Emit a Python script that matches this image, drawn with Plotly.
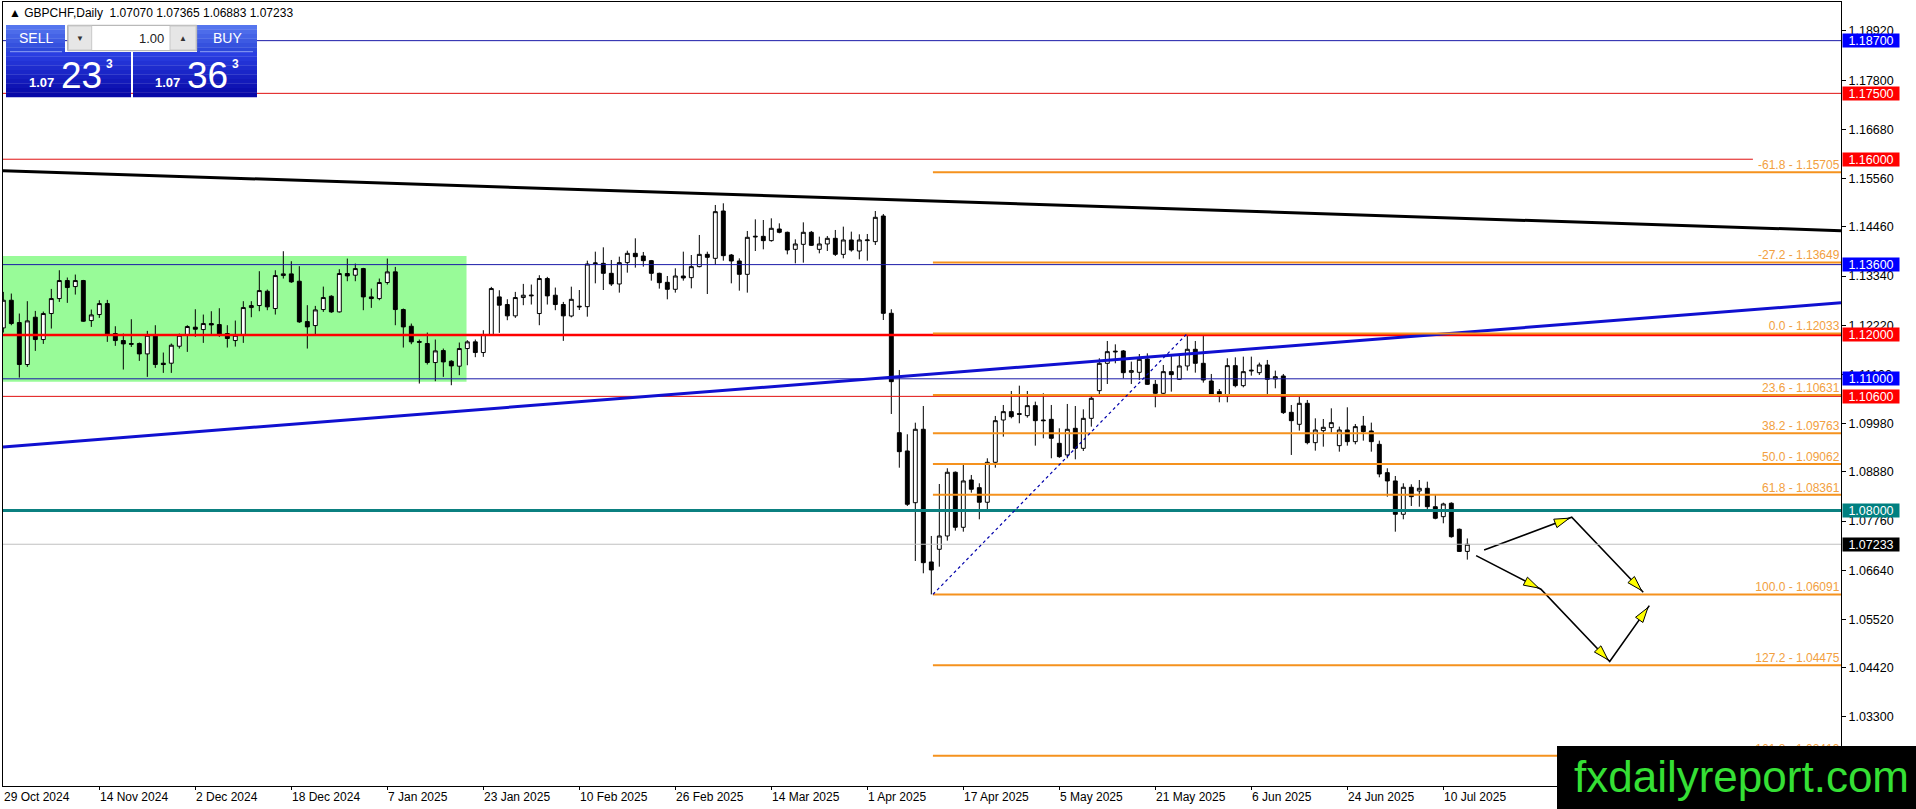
import numpy as np
import pandas as pd
import plotly.graph_objects as go

# ---- data: GBPCHF daily bars (weekdays, no Dec 25 / Jan 1 bars)
days = pd.bdate_range("2024-10-29", "2025-07-15")
dates = [d.strftime("%Y-%m-%d") for d in days if d.strftime("%m-%d") not in ("12-25", "01-01")]

opens = [1.12159, 1.12789, 1.12281, 1.11325, 1.12402, 1.11894, 1.12486, 1.12827, 1.13237, 1.13100,
         1.13237, 1.12326, 1.12463, 1.12713, 1.12030, 1.11871, 1.11803, 1.11803, 1.11567, 1.12008,
         1.11355, 1.11355, 1.11742, 1.11992, 1.12175, 1.12121, 1.12258, 1.12235, 1.12030, 1.11871,
         1.11992, 1.12622, 1.12668, 1.12994, 1.12600, 1.13351, 1.13389, 1.13222, 1.12303, 1.12212,
         1.12577, 1.12880, 1.12524, 1.13397, 1.13359, 1.13510, 1.12865, 1.12827, 1.13192, 1.13435,
         1.12577, 1.12197, 1.11848, 1.11803, 1.11370, 1.11643, 1.11400, 1.11287, 1.11689, 1.11841,
         1.11598, 1.11992, 1.12865, 1.12691, 1.12433, 1.12850, 1.12888, 1.12486, 1.13283, 1.12903,
         1.12691, 1.12430, 1.12635, 1.12643, 1.13622, 1.13629, 1.13402, 1.13159, 1.13645, 1.13857,
         1.13797, 1.13690, 1.13402, 1.13197, 1.13038, 1.13341, 1.13303, 1.13554, 1.13834, 1.13743,
         1.14821, 1.13819, 1.13683, 1.13379, 1.14229, 1.14244, 1.14146, 1.14411, 1.14336, 1.13948,
         1.14062, 1.14336, 1.13948, 1.14070, 1.14199, 1.13834, 1.14161, 1.13910, 1.14146, 1.14123,
         1.14707, 1.12492, 1.09773, 1.09357, 1.08179, 1.09851, 1.06829, 1.07118, 1.07421, 1.08872,
         1.07619, 1.08696, 1.08521, 1.08189, 1.09099, 1.10062, 1.10252, 1.10207, 1.10161, 1.10389,
         1.10062, 1.10077, 1.09531, 1.09266, 1.09873, 1.09417, 1.10100, 1.10730, 1.11353, 1.11611,
         1.11634, 1.11148, 1.11148, 1.11451, 1.10874, 1.10670, 1.11163, 1.10989, 1.11292, 1.11672,
         1.11353, 1.10950, 1.10708, 1.10609, 1.11300, 1.10844, 1.11178, 1.11140, 1.11315, 1.10996,
         1.11064, 1.10237, 1.09964, 1.10442, 1.09546, 1.09820, 1.09888, 1.09478, 1.09835, 1.09569,
         1.09926, 1.09812, 1.09508, 1.08863, 1.08674, 1.07915, 1.08530, 1.08446, 1.08507, 1.08088,
         1.07861, 1.08166, 1.07574, 1.07070]
highs = [1.12979, 1.12941, 1.12486, 1.12767, 1.12546, 1.12531, 1.13047, 1.13472, 1.13306, 1.13374,
         1.13252, 1.12577, 1.12789, 1.12797, 1.12197, 1.12030, 1.12357, 1.11826, 1.12091, 1.12220,
         1.11598, 1.11803, 1.12030, 1.12220, 1.12584, 1.12463, 1.12539, 1.12607, 1.12220, 1.12326,
         1.12767, 1.12767, 1.13450, 1.13032, 1.13472, 1.13905, 1.13677, 1.13564, 1.12676, 1.12660,
         1.13100, 1.12903, 1.13495, 1.13738, 1.13624, 1.13526, 1.13055, 1.13283, 1.13738, 1.13548,
         1.12600, 1.12258, 1.11894, 1.12053, 1.11894, 1.11689, 1.11423, 1.11826, 1.11879, 1.11894,
         1.12106, 1.13093, 1.13017, 1.12812, 1.12979, 1.13161, 1.13146, 1.13359, 1.13321, 1.13078,
         1.12751, 1.13098, 1.13022, 1.13690, 1.13895, 1.13994, 1.13706, 1.13781, 1.13918, 1.14199,
         1.13888, 1.13706, 1.13417, 1.13341, 1.13516, 1.13895, 1.13819, 1.14275, 1.13895, 1.14958,
         1.14996, 1.13842, 1.13743, 1.14366, 1.14631, 1.14616, 1.14654, 1.14540, 1.14351, 1.14176,
         1.14563, 1.14366, 1.14237, 1.14252, 1.14389, 1.14465, 1.14351, 1.14290, 1.14298, 1.14821,
         1.14753, 1.12583, 1.11201, 1.09737, 1.10001, 1.10381, 1.07421, 1.08605, 1.08963, 1.08890,
         1.09054, 1.08810, 1.08621, 1.09190, 1.10154, 1.10404, 1.10723, 1.10844, 1.10723, 1.10480,
         1.10670, 1.10404, 1.09873, 1.10427, 1.10381, 1.10305, 1.10632, 1.11467, 1.11861, 1.11785,
         1.11656, 1.11391, 1.11565, 1.11580, 1.10973, 1.11315, 1.11543, 1.11543, 1.12033, 1.11861,
         1.11983, 1.11110, 1.10768, 1.11467, 1.11489, 1.11505, 1.11505, 1.11368, 1.11429, 1.11186,
         1.11110, 1.10404, 1.10594, 1.10518, 1.10100, 1.10085, 1.10328, 1.09911, 1.10351, 1.09971,
         1.10154, 1.10002, 1.09592, 1.08963, 1.08787, 1.08621, 1.08598, 1.08696, 1.08658, 1.08355,
         1.08179, 1.08188, 1.07590, 1.07365]
lows = [1.12053, 1.12220, 1.11028, 1.11271, 1.11636, 1.11795, 1.12144, 1.12751, 1.12729, 1.12918,
        1.12296, 1.12182, 1.12387, 1.11841, 1.11750, 1.11211, 1.11727, 1.11408, 1.11044, 1.11249,
        1.11135, 1.11135, 1.11689, 1.11613, 1.11954, 1.11818, 1.12008, 1.11954, 1.11712, 1.11734,
        1.11818, 1.12402, 1.12539, 1.12562, 1.12463, 1.13283, 1.13184, 1.12273, 1.11689, 1.11992,
        1.12524, 1.12501, 1.12509, 1.13222, 1.13222, 1.12562, 1.12615, 1.12789, 1.13146, 1.12220,
        1.11712, 1.11788, 1.10892, 1.11325, 1.10945, 1.11044, 1.10854, 1.11082, 1.11309, 1.11492,
        1.11499, 1.11977, 1.12046, 1.12334, 1.12387, 1.12676, 1.12691, 1.12220, 1.12691, 1.12562,
        1.11863, 1.12400, 1.12567, 1.12415, 1.13174, 1.13022, 1.13114, 1.12962, 1.13417, 1.13531,
        1.13554, 1.13235, 1.13053, 1.12810, 1.12962, 1.13235, 1.13060, 1.13538, 1.12931, 1.13592,
        1.13690, 1.13174, 1.13007, 1.12962, 1.13910, 1.13948, 1.14123, 1.14313, 1.13834, 1.13629,
        1.13645, 1.14024, 1.13857, 1.13910, 1.13797, 1.13743, 1.13895, 1.13721, 1.13690, 1.14047,
        1.12339, 1.10199, 1.08976, 1.08104, 1.06852, 1.06572, 1.06091, 1.06722, 1.07314, 1.07542,
        1.07519, 1.08407, 1.07801, 1.07975, 1.08976, 1.09683, 1.10100, 1.09987, 1.10116, 1.09478,
        1.09645, 1.09190, 1.09200, 1.09190, 1.09167, 1.09357, 1.09911, 1.10632, 1.10882, 1.11353,
        1.11011, 1.10882, 1.10973, 1.10859, 1.10351, 1.10609, 1.10708, 1.10973, 1.11186, 1.11140,
        1.10913, 1.10609, 1.10465, 1.10465, 1.10806, 1.10806, 1.11072, 1.11087, 1.10632, 1.10784,
        1.10199, 1.09266, 1.09820, 1.09508, 1.09364, 1.09455, 1.09774, 1.09341, 1.09478, 1.09508,
        1.09592, 1.09341, 1.08757, 1.08316, 1.07519, 1.07801, 1.08104, 1.08088, 1.08013, 1.07801,
        1.07710, 1.07383, 1.07057, 1.06883]
closes = [1.12789, 1.12258, 1.11325, 1.12319, 1.11894, 1.12486, 1.12827, 1.13237, 1.13078, 1.13237,
          1.12311, 1.12455, 1.12713, 1.12008, 1.11871, 1.11795, 1.11788, 1.11567, 1.11992, 1.11325,
          1.11325, 1.11765, 1.11992, 1.12190, 1.12129, 1.12258, 1.12228, 1.12008, 1.11917, 1.11992,
          1.12622, 1.12668, 1.13009, 1.12638, 1.13351, 1.13389, 1.13207, 1.12296, 1.12182, 1.12569,
          1.12850, 1.12524, 1.13397, 1.13343, 1.13510, 1.12865, 1.12827, 1.13192, 1.13435, 1.12577,
          1.12182, 1.11841, 1.11833, 1.11370, 1.11636, 1.11385, 1.11294, 1.11689, 1.11841, 1.11598,
          1.12008, 1.13055, 1.12676, 1.12433, 1.12850, 1.12903, 1.12903, 1.13283, 1.12888, 1.12691,
          1.12433, 1.12810, 1.12650, 1.13614, 1.13637, 1.13402, 1.13159, 1.13645, 1.13857, 1.13781,
          1.13690, 1.13402, 1.13189, 1.13038, 1.13341, 1.13296, 1.13554, 1.13834, 1.13766, 1.14806,
          1.13804, 1.13683, 1.13379, 1.14222, 1.14244, 1.14146, 1.14427, 1.14336, 1.13933, 1.14070,
          1.14336, 1.14039, 1.14070, 1.14199, 1.13834, 1.14161, 1.13933, 1.14161, 1.14161, 1.14677,
          1.12491, 1.10935, 1.09341, 1.08143, 1.09851, 1.06813, 1.06647, 1.07421, 1.08872, 1.07619,
          1.08674, 1.08485, 1.08189, 1.09099, 1.10047, 1.10252, 1.10138, 1.10192, 1.10389, 1.10047,
          1.10047, 1.09645, 1.09228, 1.09850, 1.09417, 1.10100, 1.10556, 1.11353, 1.11618, 1.11626,
          1.11140, 1.11186, 1.11444, 1.10874, 1.10670, 1.11163, 1.11095, 1.11292, 1.11672, 1.11353,
          1.10973, 1.10647, 1.10609, 1.11300, 1.10844, 1.11163, 1.11194, 1.11315, 1.10988, 1.11049,
          1.10230, 1.10047, 1.10442, 1.09546, 1.09835, 1.09896, 1.10002, 1.09835, 1.09569, 1.09911,
          1.09797, 1.09569, 1.08833, 1.08674, 1.07915, 1.08530, 1.08316, 1.08507, 1.08088, 1.07824,
          1.08150, 1.07405, 1.07070, 1.07233]

tick_dates = ["2024-10-29", "2024-11-14", "2024-12-02", "2024-12-18", "2025-01-07", "2025-01-23",
              "2025-02-10", "2025-02-26", "2025-03-14", "2025-04-01", "2025-04-17", "2025-05-05",
              "2025-05-21", "2025-06-06", "2025-06-24", "2025-07-10"]
tick_text = ["29 Oct 2024", "14 Nov 2024", "2 Dec 2024", "18 Dec 2024", "7 Jan 2025", "23 Jan 2025",
             "10 Feb 2025", "26 Feb 2025", "14 Mar 2025", "1 Apr 2025", "17 Apr 2025", "5 May 2025",
             "21 May 2025", "6 Jun 2025", "24 Jun 2025", "10 Jul 2025"]
price_ticks = [1.18920, 1.17800, 1.16680, 1.15560, 1.14460, 1.13340, 1.12220, 1.11100,
               1.09980, 1.08880, 1.07760, 1.06640, 1.05520, 1.04420, 1.03300]

# horizontal levels with their price tags
level_prices = [1.18700, 1.17500, 1.16000, 1.13600, 1.12000, 1.11000, 1.10600, 1.08000, 1.07233]
level_kind = ["blue", "red", "red", "blue", "red_thick", "blue", "red", "teal", "last"]

# fibonacci from the April low to the May high
fib_pct = ["-61.8", "-27.2", "0.0", "23.6", "38.2", "50.0", "61.8", "100.0", "127.2", "161.8"]
fib_lvl = [1.15705, 1.13649, 1.12033, 1.10631, 1.09763, 1.09062, 1.08361, 1.06091, 1.04475, 1.02419]
fib_anchor = ([116.2, 148.0], [1.06091, 1.12033])

# trend lines (bar index, price)
trend_black = ([-0.04, 229.71], [1.15739, 1.14373])
trend_blue = ([-0.04, 229.71], [1.09448, 1.12733])
box_range = ([-0.04, 57.9], [1.10935, 1.13797])

# forecast arrows (bar index, price)
arrow_a = ([185.1, 196.05, 204.99], [1.07103, 1.07847, 1.06140])
arrow_b = ([184.1, 192.2, 200.8, 205.75], [1.06974, 1.06209, 1.04561, 1.05836])

# ---- geometry
W, H = 1916, 809
ML, MR, MT, MB = 3, 75, 2, 23
PW, PH = W - ML - MR, H - MT - MB
XR = [-0.04, 229.71]
YR = [1.01728, 1.19580]
PXX = PW / (XR[1] - XR[0])
PXY = PH / (YR[1] - YR[0])
FONT = "Liberation Sans, Arial, sans-serif"

BLUE_LN = "#1a1aa8"
RED_LN = "#e01010"
ORANGE = "#f5921e"


def fx(px):
    return (px - ML) / PW


def fy(py):
    return (MT + PH - py) / PH


fig = go.Figure()

fig.add_trace(go.Candlestick(
    x=dates, open=opens, high=highs, low=lows, close=closes,
    increasing=dict(line=dict(color="black", width=1), fillcolor="white"),
    decreasing=dict(line=dict(color="black", width=1), fillcolor="black"),
    whiskerwidth=0, showlegend=False, hoverinfo="skip"))

shapes = []
# green consolidation box
shapes.append(dict(type="rect", xref="x2", yref="y", x0=box_range[0][0], x1=box_range[0][1],
                   y0=box_range[1][0], y1=box_range[1][1], fillcolor="#98fb98",
                   line=dict(width=0), layer="below"))

# horizontal lines
for p, k in zip(level_prices, level_kind):
    col = {"blue": BLUE_LN, "red": RED_LN, "red_thick": "#ff0000", "teal": "#0b8080", "last": "#c0c0c0"}[k]
    wd = {"red_thick": 2.5, "teal": 3}.get(k, 1)
    x1 = 218.7 if p == 1.16 else XR[1]
    shapes.append(dict(type="line", xref="x2", yref="y", x0=XR[0], x1=x1, y0=p, y1=p,
                       line=dict(color=col, width=wd), layer="above"))

# trend lines
shapes.append(dict(type="line", xref="x2", yref="y", x0=trend_black[0][0], x1=trend_black[0][1],
                   y0=trend_black[1][0], y1=trend_black[1][1], line=dict(color="black", width=3),
                   layer="above"))
shapes.append(dict(type="line", xref="x2", yref="y", x0=trend_blue[0][0], x1=trend_blue[0][1],
                   y0=trend_blue[1][0], y1=trend_blue[1][1], line=dict(color="#1010d0", width=3),
                   layer="above"))

# fibo levels
for lv in fib_lvl:
    shapes.append(dict(type="line", xref="x2", yref="y", x0=fib_anchor[0][0], x1=XR[1], y0=lv, y1=lv,
                       line=dict(color=ORANGE, width=2), layer="above"))
shapes.append(dict(type="line", xref="x2", yref="y", x0=fib_anchor[0][0], x1=fib_anchor[0][1],
                   y0=fib_anchor[1][0], y1=fib_anchor[1][1],
                   line=dict(color="#0000aa", width=1.2, dash="3px,3px"), layer="above"))

# forecast arrows
for path in (arrow_a, arrow_b):
    fig.add_trace(go.Scatter(x=path[0], y=path[1], mode="lines", xaxis="x2", yaxis="y",
                             line=dict(color="black", width=1.6), showlegend=False, hoverinfo="skip"))


def head(p0, p1, back=2.5, ln=15, hw=4.5):
    dx = (p1[0] - p0[0]) * PXX
    dy = (p1[1] - p0[1]) * PXY
    n = np.hypot(dx, dy)
    ux, uy = dx / n, dy / n
    tx, ty = -back * ux, -back * uy
    bx, by = tx - ln * ux, ty - ln * uy
    pts = [(tx, ty), (bx - hw * uy, by + hw * ux), (bx + hw * uy, by - hw * ux)]
    return "M " + " L ".join(f"{p1[0] + a / PXX:.4f},{p1[1] + b / PXY:.6f}" for a, b in pts) + " Z"


for path in (arrow_a, arrow_b):
    for j in range(len(path[0]) - 1):
        p0 = (path[0][j], path[1][j])
        p1 = (path[0][j + 1], path[1][j + 1])
        shapes.append(dict(type="path", xref="x2", yref="y", path=head(p0, p1),
                           fillcolor="#ffff00", line=dict(color="black", width=1), layer="above"))

# fibo level captions
fig.add_trace(go.Scatter(x=[XR[1] - 0.2] * len(fib_lvl), y=fib_lvl, xaxis="x2", yaxis="y",
                         mode="text", text=[f"{p} - {v:.5f}" for p, v in zip(fib_pct, fib_lvl)],
                         textposition="top left", cliponaxis=False,
                         textfont=dict(family=FONT, size=12, color="#f2a040"),
                         showlegend=False, hoverinfo="skip"))


# one-click trading panel
def grad(x0, y0, x1, y1, c0, c1, n=10):
    a = np.array([int(c0[i:i + 2], 16) for i in (1, 3, 5)])
    b = np.array([int(c1[i:i + 2], 16) for i in (1, 3, 5)])
    for s in range(n):
        c = a + (b - a) * s / (n - 1)
        ya = y0 + (y1 - y0) * s / n
        yb = y0 + (y1 - y0) * (s + 1) / n + 0.3
        shapes.append(dict(type="rect", xref="paper", yref="paper", x0=fx(x0), x1=fx(x1),
                           y0=fy(ya), y1=fy(yb), fillcolor="rgb(%d,%d,%d)" % tuple(c),
                           line=dict(width=0), layer="above"))


grad(6, 25, 65, 52, "#5575ee", "#2d48da", 6)
grad(197, 25, 257, 52, "#5575ee", "#2d48da", 6)
grad(6, 52, 131, 97, "#2a3ee2", "#0808a8", 10)
grad(133, 52, 257, 97, "#2a3ee2", "#0808a8", 10)
for x0, x1 in ((10, 62), (200, 253)):
    shapes.append(dict(type="line", xref="paper", yref="paper", x0=fx(x0), x1=fx(x1), y0=fy(51.7),
                       y1=fy(51.7), line=dict(color="#8ea0f4", width=1), layer="above"))
shapes.append(dict(type="rect", xref="paper", yref="paper", x0=fx(67.7), x1=fx(196.7), y0=fy(25.3),
                   y1=fy(50.7), fillcolor="white", line=dict(color="#a8a8a8", width=1), layer="above"))
for x0, x1 in ((68.5, 91.7), (170, 196)):
    shapes.append(dict(type="rect", xref="paper", yref="paper", x0=fx(x0), x1=fx(x1), y0=fy(26),
                       y1=fy(50), fillcolor="#e6e6e6", line=dict(color="#c8c8c8", width=1),
                       layer="above"))

# watermark box
shapes.append(dict(type="rect", xref="paper", yref="paper", x0=fx(1557), x1=fx(1920), y0=fy(746),
                   y1=fy(812), fillcolor="black", line=dict(width=0), layer="above"))

ann = []


def txt(x, y, s, size, color="white", bold=False, xanchor="center"):
    ann.append(dict(xref="paper", yref="paper", x=fx(x), y=fy(y), text=f"<b>{s}</b>" if bold else s,
                    showarrow=False, xanchor=xanchor, yanchor="middle",
                    font=dict(family=FONT, size=size, color=color)))


txt(7, 13, "▲ GBPCHF,Daily  1.07070 1.07365 1.06883 1.07233", 12, "black", xanchor="left")
txt(35.5, 38.5, "SELL", 14)
txt(227, 38.5, "BUY", 14)
txt(80, 38.5, "▼", 8, "#333333")
txt(183, 38.5, "▲", 8, "#333333")
txt(166, 38, "1.00", 13, "#222222", xanchor="right")
txt(41, 82, "1.07", 13, bold=True)
txt(81, 75, "23", 37)
txt(109, 64.5, "3", 12, bold=True)
txt(167, 82, "1.07", 13, bold=True)
txt(207.5, 75, "36", 37)
txt(235.5, 64.5, "3", 12, bold=True)
txt(1741, 776, "fxdailyreport.com", 44, "#35e035")

# price tags on the right scale
tag_col = {"blue": "#0000ff", "red": "#ff0000", "red_thick": "#ff0000", "teal": "#008080", "last": "black"}
for p, k in zip(level_prices, level_kind):
    ann.append(dict(xref="paper", yref="y", x=1, y=p, text=f"{p:.5f}", showarrow=False,
                    xanchor="left", yanchor="middle", xshift=1, width=54, height=11, borderpad=1,
                    align="center", bgcolor=tag_col[k], font=dict(family=FONT, size=12.5, color="white")))

# date labels, left aligned at their ticks
for d, t in zip(tick_dates, tick_text):
    ann.append(dict(xref="x", yref="paper", x=d, y=0, text=t, showarrow=False, xanchor="left",
                    yanchor="top", yshift=-2, xshift=-1, font=dict(family=FONT, size=12, color="black")))

fig.update_layout(
    width=W, height=H, margin=dict(l=ML, r=MR, t=MT, b=MB),
    paper_bgcolor="white", plot_bgcolor="white", showlegend=False,
    font=dict(family=FONT, size=12, color="black"),
    shapes=shapes, annotations=ann,
    xaxis=dict(type="category", range=XR, showgrid=False, zeroline=False, showline=True,
               linecolor="black", linewidth=1, mirror=True, ticks="outside", ticklen=3,
               tickcolor="black", tickvals=tick_dates[1:], showticklabels=False,
               rangeslider=dict(visible=False), fixedrange=True),
    xaxis2=dict(overlaying="x", anchor="y", range=XR, visible=False, fixedrange=True),
    yaxis=dict(side="right", range=YR, showgrid=False, zeroline=False, showline=True,
               linecolor="black", linewidth=1, mirror=True, ticks="outside", ticklen=4,
               tickcolor="black", tickvals=price_ticks, ticktext=[f"{v:.5f}" for v in price_ticks],
               tickfont=dict(family=FONT, size=12.5, color="black"), fixedrange=True),
)

# page has a default body margin, drop it so the chart sits at 0,0
fig.write_html("out.html", config={"displayModeBar": False},
               post_script="document.body.style.margin='0px';document.body.style.overflow='hidden';")
